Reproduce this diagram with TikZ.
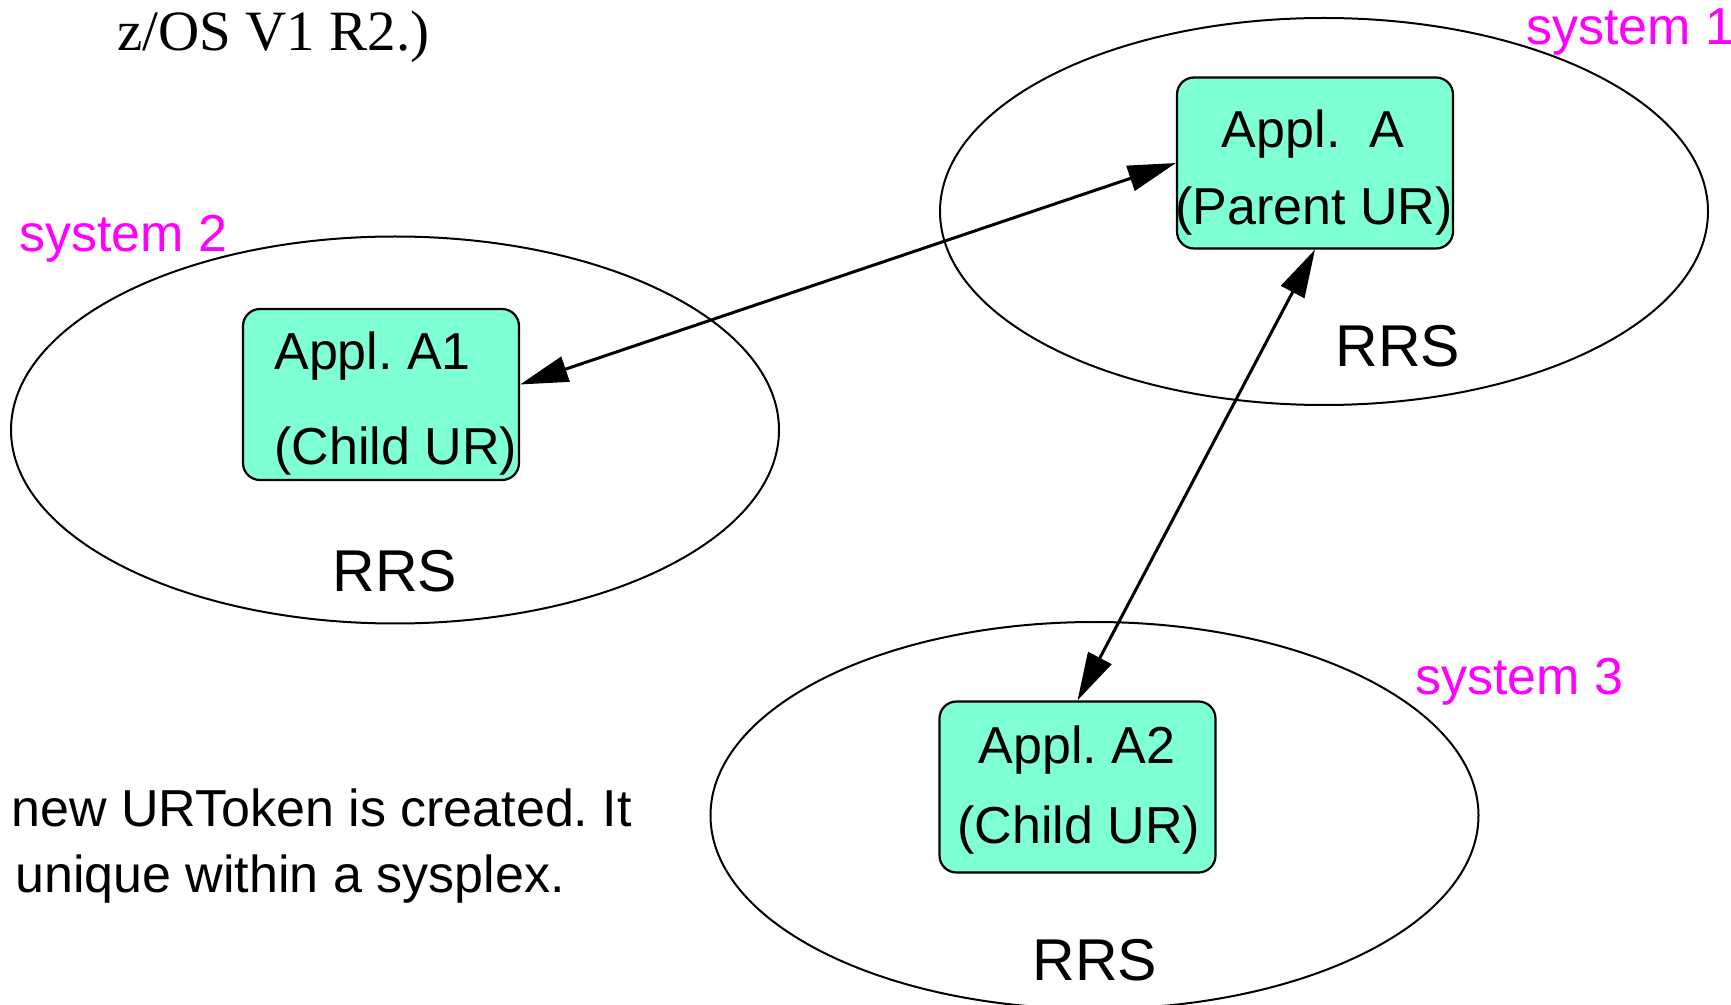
\documentclass[tikz,border=0pt]{standalone}
\usepackage{fontspec}
\setmainfont{Liberation Sans}
\newfontfamily\timesfont{Liberation Serif}
\usetikzlibrary{shapes.geometric,arrows.meta}
\definecolor{applfill}{RGB}{127,255,212}
\definecolor{syscolor}{RGB}{255,0,255}
\frenchspacing

\begin{document}
\begin{tikzpicture}[x=0.5pt,y=-0.5pt,
	sysell/.style={draw,ellipse,line width=1pt,minimum width=384pt,minimum height=193.5pt,inner sep=0pt},
	applbox/.style={draw,fill=applfill,rounded corners=8.5pt,line width=1.1pt,minimum width=138pt,minimum height=85.5pt,inner sep=0pt},
	appltext/.style={anchor=base,inner sep=0pt,font={\fontsize{26}{31}\selectfont}},
	rrstext/.style={anchor=base,inner sep=0pt,font={\fontsize{29.5}{35}\selectfont}},
	systext/.style={anchor=base west,inner sep=0pt,text=syscolor,font={\fontsize{26}{31}\selectfont}},
	link/.style={line width=1.5pt,{Triangle[length=24pt,width=13pt]}-{Triangle[length=24pt,width=13pt]}}]
			\useasboundingbox (0,0) rectangle (1731,1005);
			% systems
			\node[sysell] (sys1) at (1324,211.5) {};
			\node[sysell] (sys2) at (395,430) {};
			\node[sysell] (sys3) at (1094.5,815.5) {};
			\node[systext] (sys1-name) at (1526,45) {system 1};
			\node[systext] (sys2-name) at (19,252) {system 2};
			\node[systext] (sys3-name) at (1415,695) {system 3};
			\node[rrstext] (sys1-rrs) at (1398,367) {RRS};
			\node[rrstext] (sys2-rrs) at (395,592) {RRS};
			\node[rrstext] (sys3-rrs) at (1095,980) {RRS};

			% applications
			\node[applbox] (A) at (1315,163) {};
			\node[applbox] (A1) at (381,394.5) {};
			\node[applbox] (A2) at (1077.5,787) {};
			\node[appltext] (A-name) at (1313,148) {Appl.\ \ A};
			\node[appltext] (A-role) at (1314,225) {(Parent UR)};
			\node[appltext,anchor=base west] (A1-name) at (274,370) {Appl. A1};
			\node[appltext,anchor=base west] (A1-role) at (274,465) {(Child UR)};
			\node[appltext] (A2-name) at (1077,763) {Appl. A2};
			\node[appltext] (A2-role) at (1079,843) {(Child UR)};

			% links
			\draw[link] ([yshift=5pt]A1.east) -- (A.west);
			\draw[link] (A.south) -- (A2.north);

			% cut-off text
			\node[anchor=base west,inner sep=0pt,font={\timesfont\fontsize{28.5}{34}\selectfont}] (note-top) at (117,51) {z/OS V1 R2.)};
			\node[appltext,anchor=base west] (note-1) at (11,826) {new URToken is created. It};
			\node[appltext,anchor=base west] (note-2) at (15,892) {unique within a sysplex.};
\end{tikzpicture}
\end{document}
